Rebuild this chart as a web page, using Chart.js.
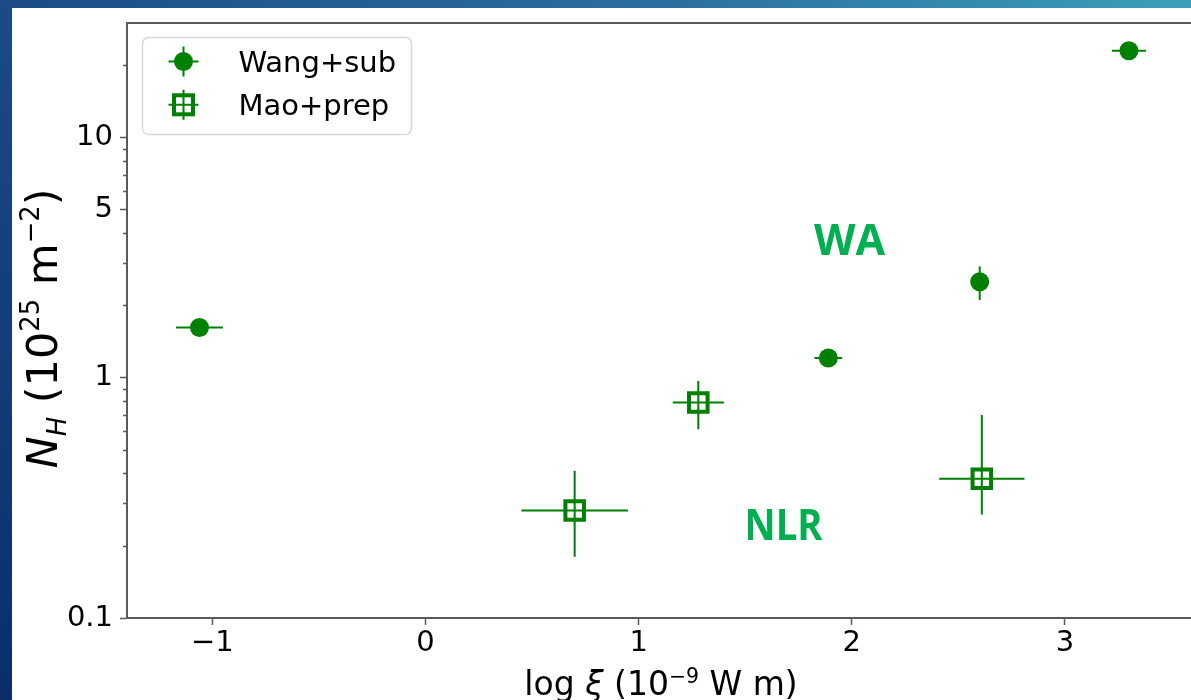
<!DOCTYPE html>
<html>
<head>
<meta charset="utf-8">
<title>N_H vs log xi</title>
<script src="https://cdn.jsdelivr.net/npm/chart.js@4.4.1/dist/chart.umd.min.js"></script>
<style>
  html, body { margin: 0; padding: 0; }
  body {
    width: 1191px; height: 700px; overflow: hidden; position: relative;
    background: linear-gradient(to bottom, #1c4b87, #0b2e6b);
  }
  #band {
    position: absolute; left: 0; top: 0; width: 1191px; height: 8px;
    background: linear-gradient(to right, #1c4b87, #2a6f9f 55%, #3c9fb8);
  }
  #card { position: absolute; left: 12px; top: 8px; width: 1200px; height: 692px; background: #fff; }
</style>
</head>
<body>
<div id="band"></div>
<div id="card"><canvas id="nhChart" width="1200" height="692"></canvas></div>
<script>
// Wang+sub (filled circles)
const wangX    = [-1.06, 1.89, 2.60, 3.30];
const wangY    = [1.62, 1.21, 2.51, 23.0];
const wangXErr = [0.11, 0.065, 0.0, 0.08];
const wangYLo  = [0.05, 0.04, 0.40, 0.5];
const wangYHi  = [0.05, 0.04, 0.40, 0.5];

// Mao+prep (open squares)
const maoX    = [0.70, 1.28, 2.61];
const maoY    = [0.28, 0.79, 0.38];
const maoXErr = [0.25, 0.12, 0.20];
const maoYLo  = [0.10, 0.18, 0.11];
const maoYHi  = [0.13, 0.18, 0.32];

const xTickVals  = [-1, 0, 1, 2, 3];
const yTickVals  = [0.1, 0.2, 0.3, 0.4, 0.5, 0.6, 0.7, 0.8, 0.9,
                    1, 2, 3, 4, 5, 6, 7, 8, 9, 10, 20];
const yLabelVals = [0.1, 1, 5, 10];
const yLabelText = ['0.1', '1', '5', '10'];

// region labels
const regionText = ['WA', 'NLR'];
const regionX    = [1.99, 1.68];
const regionY    = [3.65, 0.237];

const green = '#008000';
const regionGreen = '#00b050';
const axisGray = '#5a5a5a';
const fam = '"DejaVu Sans", sans-serif';

function toPoints(xs, ys) {
	return xs.map((v, i) => ({ x: v, y: ys[i] }));
}

function isLabeled(v) {
	return yLabelVals.some(l => Math.abs(l - v) < 1e-9);
}

// draws text made of pieces (normal / italic / sup / sub), centred on x
function drawRich(ctx, parts, x, y, size) {
	let total = 0;
	parts.forEach(p => {
		let s = p.scale ? size * p.scale : size;
		p.font = (p.italic ? 'italic ' : '') + s + 'px ' + fam;
		ctx.font = p.font;
		p.w = ctx.measureText(p.t).width;
		total += p.w;
	});
	let cx = x - total / 2;
	parts.forEach(p => {
		ctx.font = p.font;
		ctx.fillText(p.t, cx, y + (p.dy || 0) * size);
		cx += p.w;
	});
}

const errorBarPlugin = {
	id: 'errorBars',
	beforeDatasetsDraw(chart) {
		const { ctx, scales: { x, y } } = chart;
		ctx.save();
		ctx.lineWidth = 2;
		chart.data.datasets.forEach(ds => {
			ctx.strokeStyle = ds.borderColor;
			ds.data.forEach((pt, i) => {
				let px = x.getPixelForValue(pt.x),
					py = y.getPixelForValue(pt.y);
				ctx.beginPath();
				if (ds.xErr[i] > 0) {
					ctx.moveTo(x.getPixelForValue(pt.x - ds.xErr[i]), py);
					ctx.lineTo(x.getPixelForValue(pt.x + ds.xErr[i]), py);
				}
				ctx.moveTo(px, y.getPixelForValue(pt.y - ds.yLo[i]));
				ctx.lineTo(px, y.getPixelForValue(pt.y + ds.yHi[i]));
				ctx.stroke();
			});
		});
		ctx.restore();
	}
};

const framePlugin = {
	id: 'frame',
	afterDraw(chart) {
		const { ctx, chartArea: a, scales: { y } } = chart;
		ctx.save();

		// top and right spines
		ctx.strokeStyle = axisGray;
		ctx.lineWidth = 2;
		ctx.beginPath();
		ctx.moveTo(a.left - 1, a.top);
		ctx.lineTo(a.right, a.top);
		ctx.lineTo(a.right, a.bottom);
		ctx.stroke();

		// minor log ticks
		ctx.lineWidth = 1.3;
		ctx.beginPath();
		yTickVals.filter(v => !isLabeled(v)).forEach(v => {
			let py = Math.round(y.getPixelForValue(v)) + 0.5;
			ctx.moveTo(a.left - 4, py);
			ctx.lineTo(a.left, py);
		});
		ctx.stroke();

		// region labels
		ctx.fillStyle = regionGreen;
		ctx.textAlign = 'center';
		ctx.textBaseline = 'middle';
		ctx.font = 'bold 43px "Open Sans", sans-serif';
		regionText.forEach((t, i) => {
			let px = chart.scales.x.getPixelForValue(regionX[i]),
				py = y.getPixelForValue(regionY[i]);
			ctx.fillText(t, px, py, t === 'NLR' ? 78 : 72);
		});

		// axis titles
		ctx.fillStyle = '#000';
		ctx.textAlign = 'left';
		ctx.textBaseline = 'alphabetic';
		drawRich(ctx, [
			{ t: 'log ' },
			{ t: 'ξ', italic: true },
			{ t: ' (10' },
			{ t: '−9', scale: 0.62, dy: -0.36 },
			{ t: ' W m)' }
		], (a.left + a.right) / 2, 687, 33);

		ctx.save();
		ctx.translate(45, (a.top + a.bottom) / 2 + 8);
		ctx.rotate(-Math.PI / 2);
		drawRich(ctx, [
			{ t: 'N', italic: true },
			{ t: 'H', italic: true, scale: 0.6, dy: 0.2 },
			{ t: ' (10' },
			{ t: '25', scale: 0.6, dy: -0.41 },
			{ t: ' m' },
			{ t: '−2', scale: 0.6, dy: -0.41 },
			{ t: ')' }
		], 0, 0, 43);
		ctx.restore();

		// legend
		let lx = a.left + 15.5, ly = a.top + 14.5;
		ctx.fillStyle = 'rgba(255,255,255,0.8)';
		ctx.strokeStyle = '#d8d8d8';
		ctx.lineWidth = 1.5;
		ctx.beginPath();
		ctx.roundRect(lx, ly, 269, 97, 6);
		ctx.fill();
		ctx.stroke();

		chart.data.datasets.forEach((ds, i) => {
			let mx = lx + 41, my = ly + 24 + i * 43.3;
			ctx.strokeStyle = green;
			ctx.lineWidth = 2;
			ctx.beginPath();
			ctx.moveTo(mx - 15, my); ctx.lineTo(mx + 15, my);
			ctx.moveTo(mx, my - 15); ctx.lineTo(mx, my + 15);
			ctx.stroke();
			if (ds.pointStyle === 'circle') {
				ctx.fillStyle = green;
				ctx.beginPath();
				ctx.arc(mx, my, 9.5, 0, Math.PI * 2);
				ctx.fill();
			} else {
				ctx.lineWidth = 4;
				ctx.strokeRect(mx - 9.5, my - 9.5, 19, 19);
			}
			ctx.fillStyle = '#000';
			ctx.font = '29px ' + fam;
			ctx.fillText(ds.label, lx + 96, my + 10);
		});

		ctx.restore();
	}
};

function zeroPad(s) {
	s.paddingLeft = 0; s.paddingRight = 0; s.paddingTop = 0; s.paddingBottom = 0;
}

const nhChart = new Chart(document.getElementById('nhChart').getContext('2d'), {
	type: 'scatter',
	data: {
		datasets: [
			{
				label: 'Wang+sub',
				data: toPoints(wangX, wangY),
				xErr: wangXErr, yLo: wangYLo, yHi: wangYHi,
				pointStyle: 'circle',
				pointRadius: 9.5,
				pointHoverRadius: 9.5,
				backgroundColor: green,
				borderColor: green,
				borderWidth: 0
			},
			{
				label: 'Mao+prep',
				data: toPoints(maoX, maoY),
				xErr: maoXErr, yLo: maoYLo, yHi: maoYHi,
				pointStyle: 'rect',
				pointRadius: 13.1,
				pointHoverRadius: 13.1,
				backgroundColor: 'rgba(0,0,0,0)',
				borderColor: green,
				borderWidth: 4
			}
		]
	},
	options: {
		responsive: false,
		animation: false,
		events: [],
		layout: { autoPadding: false, padding: { top: 15, right: 17, left: 0, bottom: 0 } },
		plugins: {
			legend: { display: false },
			tooltip: { enabled: false }
		},
		scales: {
			x: {
				type: 'linear',
				min: -1.4,
				max: 3.61,
				afterBuildTicks: (s) => { s.ticks = xTickVals.map(v => ({ value: v })); },
				afterFit: (s) => { s.height = 82; zeroPad(s); },
				border: { color: axisGray, width: 2 },
				grid: { drawOnChartArea: false, tickLength: 7, tickColor: axisGray, tickWidth: 1.5 },
				ticks: {
					font: { family: fam, size: 29 },
					color: '#000',
					padding: 1,
					autoSkip: false,
					maxRotation: 0,
					callback: (v) => v < 0 ? '\u2212' + Math.abs(v) : String(v)
				}
			},
			y: {
				type: 'logarithmic',
				min: 0.1,
				max: 30,
				afterBuildTicks: (s) => {
					s.ticks = yTickVals.map(v => ({ value: v, major: isLabeled(v) }));
				},
				afterFit: (s) => { s.width = 115; zeroPad(s); },
				border: { color: axisGray, width: 2 },
				grid: {
					drawOnChartArea: false,
					tickLength: 7,
					tickWidth: 1.5,
					tickColor: (c) => (c.tick && isLabeled(c.tick.value)) ? axisGray : 'rgba(0,0,0,0)'
				},
				ticks: {
					font: { family: fam, size: 29 },
					color: '#000',
					padding: 7,
					autoSkip: false,
					callback: (v) => {
						let i = yLabelVals.findIndex(l => Math.abs(l - v) < 1e-9);
						return i >= 0 ? yLabelText[i] : '';
					}
				}
			}
		}
	},
	plugins: [errorBarPlugin, framePlugin]
});
</script>
</body>
</html>
